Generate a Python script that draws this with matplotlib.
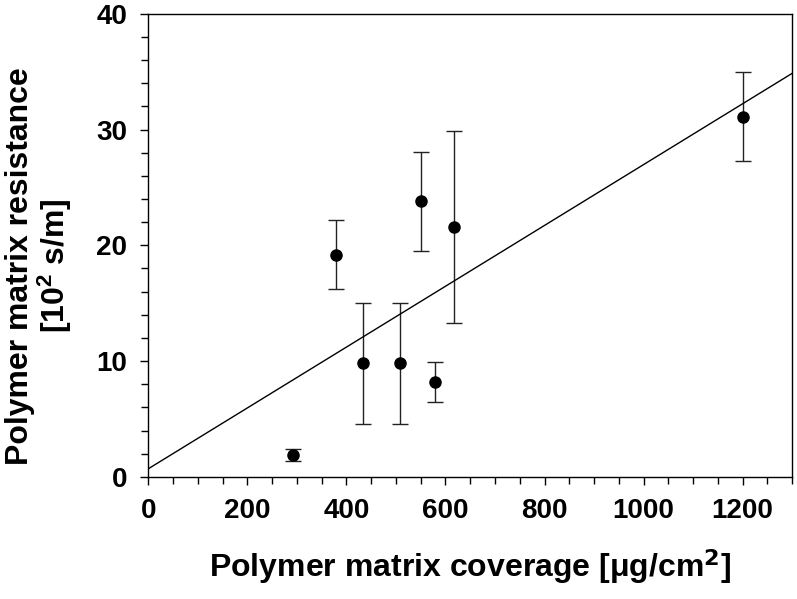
import numpy as np
import matplotlib.pyplot as plt
from matplotlib.ticker import MultipleLocator

coverage = [292, 379, 433, 508, 551, 579, 618, 1201]
resistance = [1.9, 19.2, 9.8, 9.8, 23.8, 8.2, 21.6, 31.1]
resistance_err = [0.5, 3.0, 5.25, 5.2, 4.3, 1.7, 8.3, 3.85]

plt.rcParams['font.family'] = ['Liberation Sans', 'DejaVu Sans']
plt.rcParams['font.weight'] = 'bold'
plt.rcParams['mathtext.default'] = 'regular'

fig = plt.figure(figsize=(7.97, 5.99), dpi=100)
ax = fig.add_axes([0.186, 0.204, 0.808, 0.773])

ax.errorbar(coverage, resistance, yerr=resistance_err, fmt='o', color='black',
            markersize=8, ecolor='#222222', elinewidth=1.0, capsize=6, capthick=1.0)

# linear regression through the points
slope, intercept = np.polyfit(coverage, resistance, 1)
xfit = np.array([0, 1300])
ax.plot(xfit, slope * xfit + intercept, color='black', linewidth=1.0)

ax.set_xlim(0, 1300)
ax.set_ylim(0, 40)
ax.xaxis.set_major_locator(MultipleLocator(200))
ax.xaxis.set_minor_locator(MultipleLocator(50))
ax.yaxis.set_major_locator(MultipleLocator(10))
ax.yaxis.set_minor_locator(MultipleLocator(2))
ax.tick_params(which='both', direction='out', top=False, right=False, width=1.0)
ax.tick_params(which='major', length=6, labelsize=20, pad=9)
ax.tick_params(which='minor', length=5)
for s in ax.spines.values():
    s.set_linewidth(1.0)

ax.set_xlabel(r'Polymer matrix coverage [$\mu$g/cm$^\mathbf{2}$]', fontsize=23,
              fontweight='bold', labelpad=17)
ax.set_ylabel('Polymer matrix resistance\n[10$^2$ s/m]', fontsize=23,
              fontweight='bold', linespacing=1.0)
ax.yaxis.set_label_coords(-0.116, 0.456)

plt.savefig('out.png', dpi=100)
